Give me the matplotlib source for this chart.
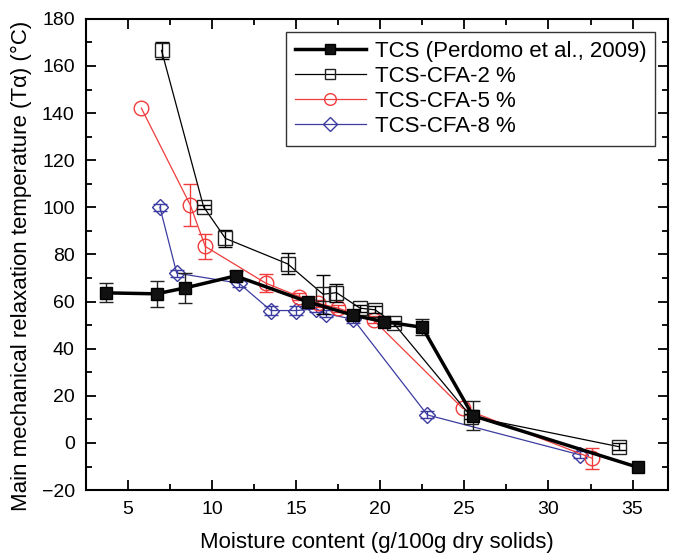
import matplotlib
matplotlib.use("Agg")
import matplotlib.pyplot as plt
from matplotlib.ticker import MultipleLocator

plt.rcParams['font.family'] = ['Liberation Sans', 'DejaVu Sans']

nan = float('nan')  # no visible error bar

# TCS (Perdomo et al., 2009)
x_tcs = [3.7, 6.7, 8.4, 11.4, 15.7, 18.4, 20.2, 22.5, 25.5, 35.3]
y_tcs = [63.7, 63.3, 65.8, 70.9, 59.9, 54.2, 51.5, 49.1, 11.6, -10.3]
e_tcs = [4.0, 5.4, 6.3, 2.0, 1.0, 1.5, 1.0, 3.4, 6.2, nan]

# TCS-CFA-2 %
x_2 = [7.0, 9.5, 10.8, 14.5, 16.6, 17.4, 18.8, 19.7, 20.8, 25.4, 34.2]
y_2 = [166.6, 100.2, 86.8, 76.0, 63.1, 63.8, 57.2, 56.5, 50.8, 11.2, -1.6]
e_2 = [3.5, 1.0, 3.6, 4.5, 8.3, 3.8, 1.5, 1.5, 1.0, 1.0, 1.5]

# TCS-CFA-5 %
x_5 = [5.8, 8.7, 9.6, 13.2, 15.2, 16.3, 17.5, 19.6, 24.9, 32.6]
y_5 = [142.1, 101.1, 83.4, 67.8, 62.1, 59.3, 57.2, 52.2, 14.7, -6.5]
e_5 = [nan, 8.9, 5.3, 3.8, 1.5, 1.5, 1.5, 1.5, nan, 4.5]

# TCS-CFA-8 %
x_8 = [6.9, 7.9, 11.6, 13.5, 15.0, 16.2, 16.8, 18.4, 22.8, 31.9]
y_8 = [100.1, 72.1, 67.8, 56.2, 56.2, 56.9, 54.8, 52.5, 11.9, -5.1]
e_8 = [1.5, 1.5, 1.5, 2.0, 2.0, 1.5, 1.5, 1.5, 1.5, 1.5]

fig = plt.figure(figsize=(6.76, 5.55), dpi=100)
ax = fig.add_axes([0.127, 0.117, 0.861, 0.849])

red = '#f03c3c'
blue = '#3c3ca0'

c1 = ax.errorbar(x_tcs, y_tcs, yerr=e_tcs, color='black', lw=2.5, marker='s', ms=9,
                 mfc='#111111', mec='black', capsize=5, elinewidth=1, ecolor='#222222',
                 label='TCS (Perdomo et al., 2009)', zorder=5)
c2 = ax.errorbar(x_2, y_2, yerr=e_2, color='black', lw=0.9, marker='s', ms=9.5,
                 mfc='none', mec='#222222', capsize=5, elinewidth=1,
                 label='TCS-CFA-2 %', zorder=4)
c3 = ax.errorbar(x_5, y_5, yerr=e_5, color=red, lw=0.9, marker='o', ms=10.5,
                 mfc='none', mec=red, capsize=5, elinewidth=1,
                 label='TCS-CFA-5 %', zorder=3)
c4 = ax.errorbar(x_8, y_8, yerr=e_8, color=blue, lw=0.9, marker='D', ms=8.5,
                 mfc='none', mec=blue, capsize=5, elinewidth=1,
                 label='TCS-CFA-8 %', zorder=2)

ax.set_xlim(2.5, 37.1)
ax.set_ylim(-20, 180)
ax.xaxis.set_major_locator(MultipleLocator(5))
ax.xaxis.set_minor_locator(MultipleLocator(2.5))
ax.yaxis.set_major_locator(MultipleLocator(20))
ax.yaxis.set_minor_locator(MultipleLocator(10))
ax.tick_params(which='both', direction='in', top=True, right=True,
               labeltop=False, labelright=False, labelsize=14, width=1.3)
ax.tick_params(which='major', length=7, pad=8)
ax.tick_params(which='minor', length=4)
for s in ax.spines.values():
    s.set_linewidth(1.5)

ax.set_xlabel('Moisture content (g/100g dry solids)', fontsize=16)
ax.xaxis.set_label_coords(0.5, -0.088)
ax.set_ylabel('Main mechanical relaxation temperature (T\u03b1) (\u00b0C)', fontsize=16)
ax.yaxis.set_label_coords(-0.093, 0.475)

handles = [c[0] for c in (c1, c2, c3, c4)]
labels = [c.get_label() for c in (c1, c2, c3, c4)]
leg = ax.legend(handles, labels, loc='upper right', bbox_to_anchor=(0.978, 0.972),
                borderaxespad=0, fontsize=16, frameon=True, fancybox=False,
                edgecolor='black', handlelength=3.2, labelspacing=0.18, borderpad=0.4,
                handletextpad=0.4, markerscale=0.8)
leg.get_frame().set_linewidth(1.0)

fig.savefig('out.png', dpi=100)
